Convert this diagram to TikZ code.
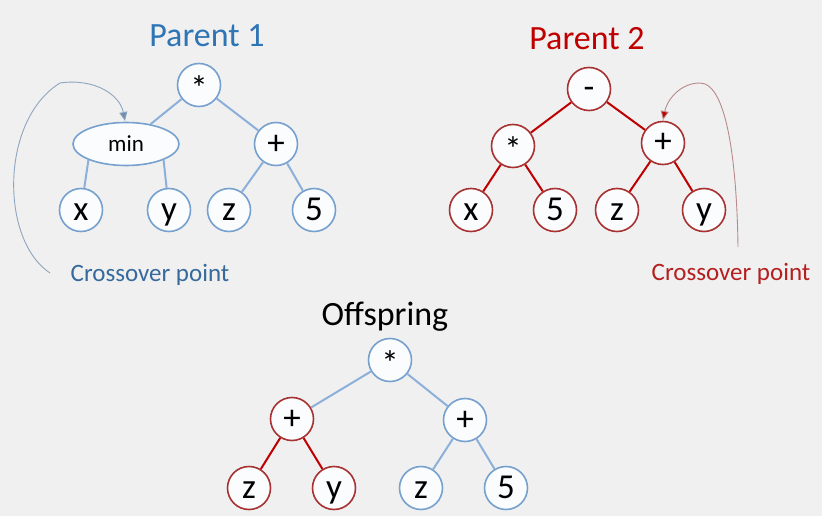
\documentclass[tikz,border=0pt]{standalone}
\usepackage{fontspec}
\setmainfont{Carlito}
\usetikzlibrary{shapes.geometric,arrows.meta}
\definecolor{bg}{HTML}{F0F0F0}
\definecolor{nfill}{HTML}{FBFCFE}
\definecolor{bluebd}{HTML}{76A1CF}
\definecolor{blueln}{HTML}{8CB0D9}
\definecolor{bluetx}{HTML}{2E75B6}
\definecolor{bluecx}{HTML}{36699C}
\definecolor{bluecurve}{HTML}{8FA6BE}
\definecolor{redbd}{HTML}{A83232}
\definecolor{redln}{HTML}{C00000}
\definecolor{redtx}{HTML}{C00000}
\definecolor{redcx}{HTML}{B51F1F}
\definecolor{redcurve}{HTML}{B88A8A}
\tikzset{
  tnode/.style={circle, fill=nfill, line width=1.6pt, minimum size=43pt, inner sep=0pt,
    font=\fontsize{35}{35}\selectfont, text height=20pt, text depth=0pt},
  bnode/.style={tnode, draw=bluebd},
  rnode/.style={tnode, draw=redbd},
  starnode/.style={text height=31pt},
  bedge/.style={draw=blueln, line width=2pt},
  redge/.style={draw=redln, line width=2pt},
  title/.style={anchor=base, font=\fontsize{34}{34}\selectfont},
  cxlabel/.style={anchor=base, font=\fontsize{25}{25}\selectfont},
  bcurve/.style={draw=bluecurve, line width=0.9pt, -{Triangle[length=9pt,width=8pt,fill=blueln!80!black]}},
  rcurve/.style={draw=redcurve, line width=0.9pt, -{Triangle[length=9pt,width=8pt,fill=redln]}},
}
\begin{document}
\begin{tikzpicture}[x=1pt,y=-1pt]
\fill[bg] (0,0) rectangle (822,516);
\useasboundingbox (0,0) rectangle (822,516);

% Parent 1
\node[title, text=bluetx] (t1) at (207,47) {Parent 1};
\node[bnode, starnode] (p1r) at (199,85) {*};
\node[ellipse, draw=bluebd, fill=nfill, line width=1.6pt, minimum width=106pt, minimum height=43pt,
  inner sep=0pt, font=\fontsize{23}{23}\selectfont, text height=15.4pt, text depth=0pt] (p1min) at (126,144) {min};
\node[bnode] (p1p) at (276,144) {+};
\node[bnode] (p1x) at (81,210) {x};
\node[bnode] (p1y) at (169,210) {y};
\node[bnode] (p1z) at (229,210) {z};
\node[bnode] (p15) at (314,210) {5};
\draw[bedge] (p1r) -- (p1min);
\draw[bedge] (p1r) -- (p1p);
\draw[bedge] (p1min.203) -- (p1x);
\draw[bedge] (p1min.-23) -- (p1y);
\draw[bedge] (p1p) -- (p1z);
\draw[bedge] (p1p) -- (p15);
\node[cxlabel, text=bluecx] (c1) at (150,281) {Crossover point};
\coordinate (c1s) at (50,273);
\coordinate (c1top) at (60,83);
\coordinate (c1end) at (125,121);
\draw[bcurve] (c1s) .. controls (0,240) and (0,120) .. (c1top) .. controls (95,78) and (120,95) .. (c1end);

% Parent 2
\node[title, text=redtx] (t2) at (587,50) {Parent 2};
\node[rnode] (p2r) at (589,89) {-};
\node[rnode, starnode] (p2s) at (513,146) {*};
\node[rnode] (p2p) at (663,143) {+};
\node[rnode] (p2x) at (471,210) {x};
\node[rnode] (p25) at (555,210) {5};
\node[rnode] (p2z) at (617,210) {z};
\node[rnode] (p2y) at (704,210) {y};
\draw[redge] (p2r) -- (p2s);
\draw[redge] (p2r) -- (p2p);
\draw[redge] (p2s) -- (p2x);
\draw[redge] (p2s) -- (p25);
\draw[redge] (p2p) -- (p2z);
\draw[redge] (p2p) -- (p2y);
\node[cxlabel, text=redcx] (c2) at (731,280) {Crossover point};
\coordinate (c2s) at (738,247);
\coordinate (c2top) at (700,83);
\coordinate (c2end) at (663,120);
\draw[rcurve] (c2s) .. controls (737,170) and (728,83) .. (c2top) .. controls (680,83) and (667,100) .. (c2end);

% Offspring
\node[title, text=black] (t3) at (385,325) {Offspring};
\node[bnode, starnode] (or) at (390,360) {*};
\node[rnode] (orp) at (292,419) {+};
\node[bnode] (obp) at (465,420) {+};
\node[rnode] (oz1) at (249,488) {z};
\node[rnode] (oy) at (334,488) {y};
\node[bnode] (oz2) at (421,488) {z};
\node[bnode] (o5) at (506,488) {5};
\draw[bedge] (or) -- (orp);
\draw[bedge] (or) -- (obp);
\draw[redge] (orp) -- (oz1);
\draw[redge] (orp) -- (oy);
\draw[bedge] (obp) -- (oz2);
\draw[bedge] (obp) -- (o5);
\end{tikzpicture}
\end{document}
